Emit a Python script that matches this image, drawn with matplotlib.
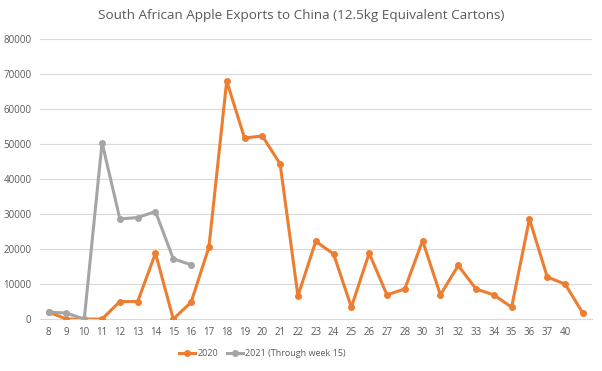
import matplotlib
matplotlib.use("Agg")
import matplotlib.pyplot as plt

weeks = ["8", "9", "10", "11", "12", "13", "14", "15", "16", "17", "18", "19", "20",
         "21", "22", "23", "24", "25", "26", "27", "28", "30", "31", "32", "33", "34",
         "35", "36", "37", "40", ""]
exports_2020 = [2000, 0, 0, 0, 5000, 5000, 18800, 0, 4800, 20500, 68000, 51700, 52300,
                44300, 6600, 22200, 18600, 3400, 18800, 6900, 8600, 22400, 6900, 15300,
                8600, 6900, 3400, 28600, 12000, 10000, 1700]
exports_2021 = [2000, 1700, 0, 50400, 28600, 29000, 30700, 17200, 15500]

plt.rcParams['font.family'] = ['Open Sans', 'DejaVu Sans']
text_col = "#595959"

fig = plt.figure(figsize=(6.02, 3.71), dpi=100)
ax = fig.add_axes([0.066, 0.14, 0.917, 0.755])

x20 = list(range(len(exports_2020)))
x21 = list(range(len(exports_2021)))
ax.plot(x20, exports_2020, color="#ED7D31", lw=2.2, marker="o", ms=4, label="2020", zorder=3)
ax.plot(x21, exports_2021, color="#A5A5A5", lw=2.2, marker="o", ms=4,
        label="2021 (Through week 15)", zorder=3)

ax.set_xlim(-0.5, len(weeks) - 0.5)
ax.set_ylim(0, 80000)
ax.set_yticks(range(0, 80001, 10000))
ax.set_xticks(x20)
ax.set_xticklabels(weeks)
ax.tick_params(length=0, labelsize=7, colors=text_col, pad=6)
ax.grid(axis="y", color="#D9D9D9", lw=0.8)
ax.set_axisbelow(True)
for s in ["top", "right", "left"]:
    ax.spines[s].set_visible(False)
ax.spines["bottom"].set_color("#D9D9D9")

fig.suptitle("South African Apple Exports to China (12.5kg Equivalent Cartons)",
             y=0.975, fontsize=9.7, color=text_col)
fig.legend(loc="center", bbox_to_anchor=(0.436, 0.046), ncol=2, frameon=False,
           fontsize=6.5, labelcolor=text_col, handlelength=1.8, handletextpad=0.2,
           columnspacing=1.0)

fig.savefig("out.png", dpi=100)
